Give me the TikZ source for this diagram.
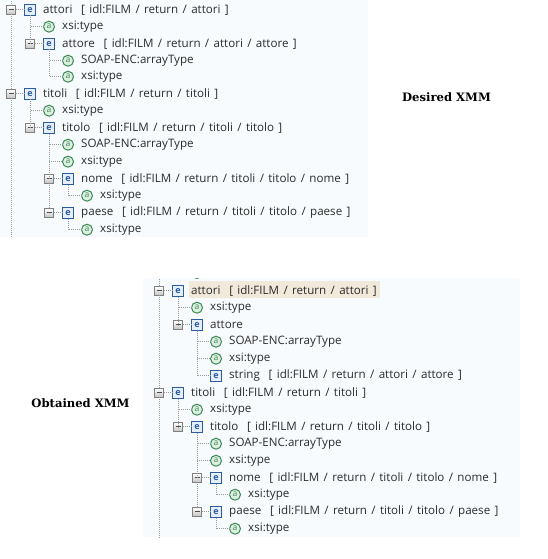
\documentclass[tikz,border=0pt]{standalone}
\usepackage{fontspec}
\setmainfont[WordSpace=1.45]{Open Sans}
\newfontfamily\capfont{DejaVu Serif}
\usetikzlibrary{calc}
\definecolor{panel}{HTML}{F7FBFE}
\definecolor{hilite}{HTML}{F1EADB}
\definecolor{eblue}{HTML}{2A5C9E}
\definecolor{efill}{HTML}{E6EFF8}
\definecolor{agreen}{HTML}{3E8A55}
\definecolor{afill}{HTML}{DDEFE0}
\definecolor{dotc}{HTML}{9A9A9A}
\definecolor{txt}{HTML}{2B2B2B}
\tikzset{
  x=1pt,y=-1pt,
  eicon/.style={draw=eblue,line width=0.8pt,fill=efill,minimum size=10.8pt,inner sep=0pt,text=eblue,font=\fontsize{9}{9}\selectfont\bfseries},
  aicon/.style={circle,draw=agreen,line width=1pt,fill=afill,minimum size=11pt,inner sep=0pt,text=agreen,font=\fontsize{8.5}{8.5}\selectfont},
  expand/.style={draw=gray,line width=0.6pt,top color=white,bottom color=gray!45,minimum size=8.5pt,inner sep=0pt},
  lab/.style={anchor=west,inner sep=0pt,text=txt,font=\fontsize{11.6}{13}\selectfont},
  conn/.style={dotc,line width=0.7pt,dash pattern=on 0.8pt off 1.2pt},
  captext/.style={font=\fontsize{11.6}{13}\selectfont\capfont\bfseries,text=black},
}
\newcommand{\EItem}[4]{% id, expander x, y, label
  \node[expand] (#1x) at (#2,#3) {};
  \draw[black!70,line width=0.7pt] ($(#1x.center)+(-2.5,0)$) -- ($(#1x.center)+(2.5,0)$);
  \node[eicon] (#1i) at (#2+19,#3) {e};
  \node[lab] (#1t) at (#2+32,#3) {#4};
  \draw[conn] (#1x) -- (#1i);
}
\newcommand{\AItem}[4]{% id, icon x, y, label
  \node[aicon] (#1i) at (#2,#3) {a};
  \node[lab] (#1t) at (#2+13,#3) {#4};
}
\newcommand{\EPlain}[4]{% id, icon x, y, label
  \node[eicon] (#1i) at (#2,#3) {e};
  \node[lab] (#1t) at (#2+13,#3) {#4};
}
\begin{document}
\begin{tikzpicture}
\useasboundingbox (0,0) rectangle (548,559);
\fill[white] (0,0) rectangle (548,559);
\fill[panel] (0,0) rectangle (368,237);
\fill[panel] (143,278) rectangle (520,537);
\fill[hilite] (189,281) rectangle (380,298);
% clipped row at the top of the lower panel
\begin{scope}
\clip (143,278) rectangle (480,290);
\AItem{z}{197}{273}{xsi:type}
\end{scope}
\begin{scope}[yshift=-0.7pt]
% upper tree
\EItem{a}{11}{9}{attori\ \ [ idl:FILM / return / attori ]}
\AItem{b}{49}{26}{xsi:type}
\EItem{c}{30}{43}{attore\ \ [ idl:FILM / return / attori / attore ]}
\AItem{d}{68}{60}{SOAP-ENC:arrayType}
\AItem{e}{68}{76}{xsi:type}
\EItem{f}{11}{93}{titoli\ \ [ idl:FILM / return / titoli ]}
\AItem{g}{49}{110}{xsi:type}
\EItem{h}{30}{127}{titolo\ \ [ idl:FILM / return / titoli / titolo ]}
\AItem{k}{68}{144}{SOAP-ENC:arrayType}
\AItem{l}{68}{161}{xsi:type}
\EItem{m}{49}{178}{nome\ \ [ idl:FILM / return / titoli / titolo / nome ]}
\AItem{n}{87}{195}{xsi:type}
\EItem{o}{49}{212}{paese\ \ [ idl:FILM / return / titoli / titolo / paese ]}
\AItem{p}{87}{229}{xsi:type}
\coordinate (top1) at (11,0.7);
\coordinate (bot1) at (11,237);
\draw[conn] (top1) -- (ax);
\draw[conn] (ax) -- (fx);
\draw[conn] (fx) -- (bot1);
\draw[conn] (ai) |- (bi);
\draw[conn] (ai) |- (cx);
\draw[conn] (ci) |- (di);
\draw[conn] (ci) |- (ei);
\draw[conn] (fi) |- (gi);
\draw[conn] (fi) |- (hx);
\draw[conn] (hi) |- (ki);
\draw[conn] (hi) |- (li);
\draw[conn] (hi) |- (mx);
\draw[conn] (mx) -- (ox);
\draw[conn] (mi) |- (ni);
\draw[conn] (oi) |- (pi);
% lower tree
\EItem{A}{159}{290}{attori\ \ [ idl:FILM / return / attori ]}
\AItem{B}{197}{307}{xsi:type}
\EItem{C}{178}{324}{attore}
\AItem{D}{216}{341}{SOAP-ENC:arrayType}
\AItem{E}{216}{358}{xsi:type}
\EPlain{F}{216}{375}{string\ \ [ idl:FILM / return / attori / attore ]}
\EItem{G}{159}{392}{titoli\ \ [ idl:FILM / return / titoli ]}
\AItem{H}{197}{409}{xsi:type}
\EItem{K}{178}{426}{titolo\ \ [ idl:FILM / return / titoli / titolo ]}
\AItem{L}{216}{443}{SOAP-ENC:arrayType}
\AItem{M}{216}{460}{xsi:type}
\EItem{N}{197}{477}{nome\ \ [ idl:FILM / return / titoli / titolo / nome ]}
\AItem{O}{235}{494}{xsi:type}
\EItem{P}{197}{511}{paese\ \ [ idl:FILM / return / titoli / titolo / paese ]}
\AItem{Q}{235}{528}{xsi:type}
\coordinate (top2) at (159,278);
\coordinate (bot2) at (159,537);
\draw[conn] (top2) -- (Ax);
\draw[conn] (Ax) -- (Gx);
\draw[conn] (Gx) -- (bot2);
\draw[conn] (Ai) |- (Bi);
\draw[conn] (Ai) |- (Cx);
\draw[conn] (Ci) |- (Di);
\draw[conn] (Ci) |- (Ei);
\draw[conn] (Ci) |- (Fi);
\draw[conn] (Gi) |- (Hi);
\draw[conn] (Gi) |- (Kx);
\draw[conn] (Ki) |- (Li);
\draw[conn] (Ki) |- (Mi);
\draw[conn] (Ki) |- (Nx);
\draw[conn] (Nx) -- (Px);
\draw[conn] (Ni) |- (Oi);
\draw[conn] (Pi) |- (Qi);
% captions
\node[captext] (desired) at (446.5,96.5) {Desired XMM};
\node[captext] (obtained) at (80.5,402.5) {Obtained XMM};
\end{scope}
\end{tikzpicture}
\end{document}
